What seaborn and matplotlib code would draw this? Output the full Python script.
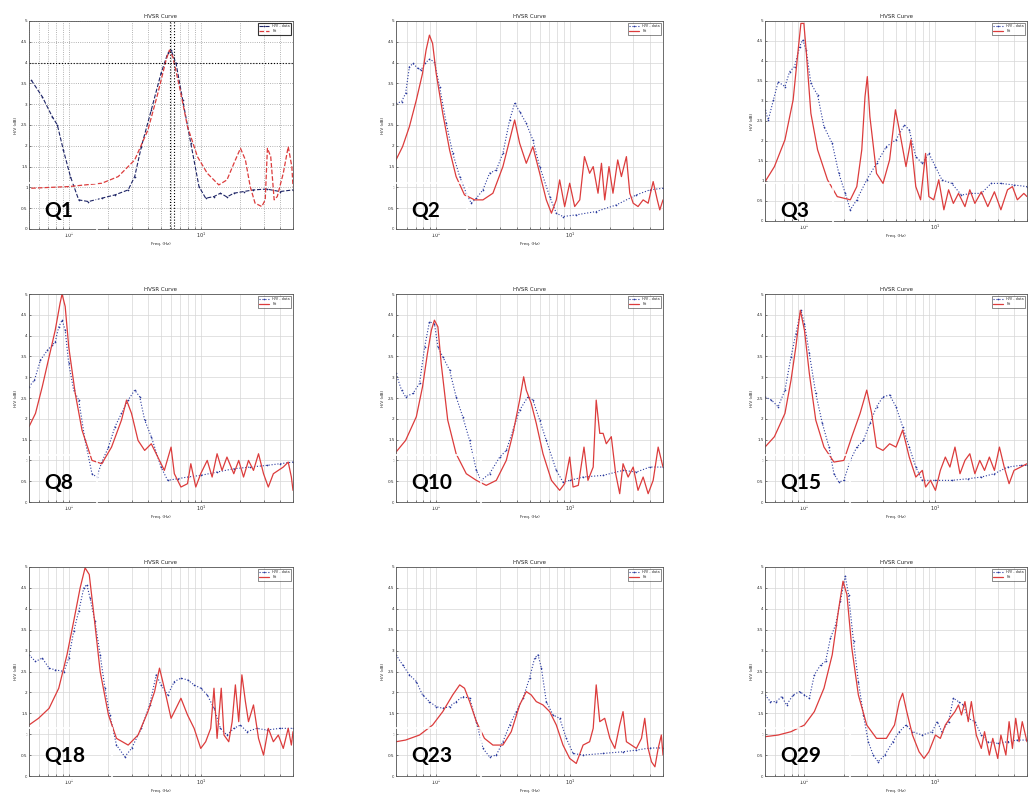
import numpy as np
import matplotlib.pyplot as plt
import seaborn as sns
from matplotlib.patches import Rectangle
from matplotlib.ticker import FixedLocator, LogLocator, NullFormatter

sns.set_style("ticks")
plt.rcParams['font.family'] = ['DejaVu Sans']

# --- Curves: frequency (Hz) and H/V amplitude ---
# Q1
q1_f_obs = [0.52, 0.63, 0.75, 0.82, 0.91, 1.03, 1.19, 1.41, 1.78, 2.24, 2.82, 3.16, 3.55, 4.22, 5.0, 5.62,
            5.96, 6.5, 7.3, 8.41, 9.7, 10.9, 12.6, 14.1, 15.8, 17.8, 21.1, 25.1, 31.6, 39.8, 50]
q1_obs = [3.58, 3.18, 2.70, 2.50, 1.90, 1.26, 0.70, 0.66, 0.74, 0.82, 0.94, 1.26, 1.98, 2.86, 3.74, 4.22,
          4.30, 3.98, 3.10, 2.06, 1.02, 0.74, 0.78, 0.86, 0.77, 0.86, 0.90, 0.94, 0.96, 0.90, 0.94]
q1_f_fit = [0.52, 1.0, 1.78, 2.37, 3.16, 3.98, 4.73, 5.46, 5.79, 6.14, 6.9, 7.94, 9.44, 11.2, 13.7, 15.8,
            18.3, 20.0, 21.8, 23.7, 25.8, 29.0, 30.8, 32.0, 33.9, 36.0, 38.0, 42.2, 46.0, 49.0, 50]
q1_fit = [0.98, 1.02, 1.10, 1.26, 1.66, 2.38, 3.26, 4.06, 4.30, 4.14, 3.42, 2.46, 1.74, 1.34, 1.06, 1.18,
          1.66, 1.94, 1.66, 1.02, 0.62, 0.54, 0.70, 1.94, 1.74, 0.70, 0.78, 1.34, 1.98, 1.50, 1.02]

# Q2
q2_f_obs = [0.5, 0.55, 0.59, 0.63, 0.67, 0.73, 0.77, 0.82, 0.89, 0.97, 1.06, 1.19, 1.33, 1.50, 1.68, 1.83,
            2.0, 2.24, 2.51, 2.82, 3.16, 3.55, 3.87, 4.22, 4.73, 5.30, 5.96, 7.08, 7.94, 8.91, 11.2, 15.8,
            22.4, 31.6, 39.8, 50]
q2_obs = [3.02, 3.06, 3.26, 3.90, 3.98, 3.86, 3.82, 3.98, 4.08, 4.02, 3.42, 2.54, 1.82, 1.26, 0.86, 0.62,
          0.74, 0.94, 1.34, 1.42, 1.82, 2.62, 3.02, 2.82, 2.54, 2.14, 1.50, 0.78, 0.38, 0.30, 0.34, 0.42,
          0.58, 0.82, 0.94, 0.98]
q2_f_fit = [0.5, 0.56, 0.63, 0.71, 0.79, 0.84, 0.89, 0.94, 1.0, 1.12, 1.26, 1.41, 1.63, 1.94, 2.24, 2.66,
            3.16, 3.55, 3.87, 4.22, 4.73, 5.30, 5.96, 6.68, 7.3, 7.94, 8.41, 9.17, 10.0, 10.9, 11.9, 12.9,
            14.1, 15.0, 16.3, 17.3, 18.3, 19.7, 21.1, 22.9, 24.4, 26.6, 28.2, 29.9, 32.5, 35.5, 38.7, 42.2,
            45.3, 47.3, 50]
q2_fit = [1.66, 1.98, 2.46, 3.10, 3.74, 4.30, 4.66, 4.46, 3.74, 2.78, 1.90, 1.26, 0.82, 0.70, 0.70, 0.86,
          1.50, 2.14, 2.62, 2.06, 1.58, 1.98, 1.34, 0.70, 0.38, 0.70, 1.18, 0.54, 1.10, 0.54, 0.70, 1.74,
          1.34, 1.50, 0.86, 1.58, 0.70, 1.50, 0.86, 1.66, 1.26, 1.74, 0.86, 0.62, 0.54, 0.70, 0.62, 1.14,
          0.70, 0.46, 0.70]

# Q3
q3_f_obs = [0.5, 0.53, 0.58, 0.63, 0.71, 0.77, 0.84, 0.92, 0.97, 1.03, 1.12, 1.26, 1.41, 1.63, 1.83, 2.05,
            2.24, 2.51, 2.99, 3.55, 4.22, 5.0, 5.79, 6.31, 7.08, 7.94, 8.91, 10.0, 11.2, 13.3, 15.8, 18.8,
            22.4, 26.6, 31.6, 39.8, 50]
q3_obs = [2.78, 2.53, 3.03, 3.48, 3.36, 3.73, 3.86, 4.36, 4.53, 4.28, 3.44, 3.15, 2.36, 1.94, 1.19, 0.69,
          0.28, 0.53, 1.03, 1.44, 1.86, 2.03, 2.40, 2.28, 1.61, 1.44, 1.69, 1.36, 1.03, 0.94, 0.65, 0.69,
          0.69, 0.94, 0.94, 0.90, 0.86]
q3_f_fit = [0.5, 0.59, 0.71, 0.82, 0.89, 0.94, 0.99, 1.03, 1.12, 1.26, 1.50, 1.78, 2.24, 2.51, 2.74, 2.90,
            3.02, 3.16, 3.55, 3.98, 4.47, 4.95, 5.30, 5.96, 6.5, 7.08, 7.7, 8.41, 8.91, 9.7, 10.6, 11.6,
            12.6, 13.7, 15.0, 16.8, 18.3, 20.0, 22.4, 25.1, 28.2, 31.6, 35.5, 38.7, 42.2, 47.3, 50]
q3_fit = [0.98, 1.36, 2.03, 3.03, 4.19, 4.94, 4.94, 4.28, 2.69, 1.78, 1.03, 0.61, 0.53, 0.86, 1.78, 3.11,
          3.61, 2.61, 1.19, 0.94, 1.53, 2.78, 2.28, 1.36, 2.03, 0.86, 0.53, 1.69, 0.61, 0.53, 1.03, 0.28,
          0.78, 0.44, 0.69, 0.36, 0.78, 0.44, 0.73, 0.36, 0.73, 0.28, 0.78, 0.86, 0.53, 0.69, 0.61]

# Q8
q8_f_obs = [0.5, 0.55, 0.61, 0.69, 0.75, 0.79, 0.84, 0.89, 0.94, 1.0, 1.09, 1.19, 1.33, 1.50, 1.63, 1.78,
            2.0, 2.24, 2.51, 2.82, 3.16, 3.45, 3.76, 4.22, 5.0, 5.62, 6.68, 7.94, 10.0, 13.3, 17.8, 23.7,
            31.6, 39.8, 50]
q8_obs = [2.77, 2.93, 3.41, 3.65, 3.77, 3.85, 4.21, 4.37, 4.13, 3.33, 2.69, 2.45, 1.48, 0.68, 0.60, 0.96,
          1.32, 1.81, 2.13, 2.45, 2.69, 2.53, 1.97, 1.57, 0.84, 0.52, 0.56, 0.60, 0.64, 0.72, 0.80, 0.84,
          0.88, 0.92, 0.96]
q8_f_fit = [0.5, 0.56, 0.63, 0.71, 0.79, 0.86, 0.89, 0.94, 1.0, 1.12, 1.26, 1.50, 1.78, 2.11, 2.51, 2.74,
            2.99, 3.35, 3.76, 4.22, 4.73, 5.30, 5.96, 6.31, 7.08, 7.94, 8.41, 9.17, 10.0, 11.2, 12.2, 13.3,
            14.5, 15.8, 17.8, 19.4, 21.1, 23.0, 25.1, 27.4, 29.9, 32.5, 35.5, 38.7, 42.2, 46.0, 48.6, 50]
q8_fit = [1.81, 2.13, 2.77, 3.49, 4.13, 4.78, 5.0, 4.70, 3.73, 2.61, 1.73, 1.00, 0.92, 1.32, 1.97, 2.45,
          2.13, 1.48, 1.24, 1.40, 1.08, 0.76, 1.32, 0.68, 0.36, 0.44, 0.92, 0.36, 0.68, 1.00, 0.60, 1.16,
          0.76, 1.08, 0.68, 1.00, 0.60, 1.00, 0.76, 1.16, 0.68, 0.36, 0.68, 0.76, 0.84, 0.96, 0.60, 0.28]

# Q10
q10_f_obs = [0.5, 0.55, 0.59, 0.67, 0.75, 0.82, 0.89, 0.97, 1.03, 1.12, 1.26, 1.41, 1.58, 1.78, 2.0, 2.17,
             2.51, 2.99, 3.35, 3.76, 4.22, 4.87, 5.30, 5.96, 6.68, 7.94, 8.91, 10.0, 12.6, 17.8, 25.1,
             31.6, 39.8, 50]
q10_obs = [3.09, 2.69, 2.53, 2.61, 2.85, 3.73, 4.33, 4.29, 3.73, 3.49, 3.17, 2.53, 2.05, 1.48, 0.76, 0.52,
           0.68, 1.08, 1.24, 1.73, 2.21, 2.53, 2.45, 1.97, 1.48, 0.76, 0.48, 0.52, 0.60, 0.64, 0.76, 0.72,
           0.84, 0.84]
q10_f_fit = [0.5, 0.59, 0.71, 0.79, 0.86, 0.92, 0.97, 1.03, 1.09, 1.22, 1.41, 1.68, 2.0, 2.37, 2.82, 3.35,
             3.76, 4.22, 4.52, 4.73, 5.15, 5.62, 6.31, 7.3, 8.41, 9.17, 10.0, 10.6, 11.6, 12.8, 13.7, 15.0,
             15.8, 16.8, 17.8, 18.8, 20.5, 22.1, 23.7, 25.1, 27.4, 29.9, 32.5, 35.5, 38.7, 42.2, 46.0, 50]
q10_fit = [1.20, 1.48, 2.05, 2.77, 3.57, 4.13, 4.37, 4.21, 3.33, 1.97, 1.16, 0.68, 0.52, 0.40, 0.52, 1.00,
           1.65, 2.45, 3.01, 2.69, 2.37, 1.89, 1.16, 0.52, 0.28, 0.44, 1.08, 0.36, 0.40, 1.32, 0.52, 0.84,
           2.45, 1.65, 1.65, 1.40, 1.57, 0.68, 0.20, 0.92, 0.60, 0.84, 0.28, 0.60, 0.20, 0.52, 1.32, 0.84]

# Q15
q15_f_obs = [0.5, 0.56, 0.63, 0.71, 0.79, 0.86, 0.94, 1.0, 1.09, 1.22, 1.37, 1.54, 1.68, 1.83, 2.0, 2.24,
             2.51, 2.82, 3.16, 3.55, 3.98, 4.47, 5.0, 5.62, 6.31, 7.08, 7.94, 10.0, 13.3, 17.8, 22.4, 28.2,
             35.5, 44.7, 50]
q15_obs = [2.53, 2.45, 2.29, 2.69, 3.49, 4.05, 4.61, 4.29, 3.57, 2.61, 1.89, 1.32, 0.68, 0.48, 0.52, 1.00,
           1.32, 1.48, 1.89, 2.29, 2.53, 2.57, 2.29, 1.81, 1.32, 0.84, 0.52, 0.52, 0.52, 0.56, 0.60, 0.68,
           0.84, 0.88, 0.88]
q15_f_fit = [0.5, 0.59, 0.71, 0.79, 0.86, 0.93, 1.0, 1.09, 1.22, 1.41, 1.68, 2.0, 2.30, 2.66, 2.99, 3.26,
             3.55, 3.98, 4.47, 5.0, 5.62, 6.31, 7.08, 7.94, 8.41, 9.17, 10.0, 10.9, 11.9, 12.9, 14.1, 15.4,
             16.8, 18.3, 20.0, 21.8, 23.7, 25.8, 28.2, 30.8, 33.5, 36.5, 39.8, 44.7, 50]
q15_fit = [1.32, 1.57, 2.13, 2.93, 3.73, 4.61, 4.13, 3.09, 1.97, 1.32, 0.96, 1.00, 1.57, 2.13, 2.69, 2.13,
           1.32, 1.24, 1.40, 1.32, 1.73, 1.08, 0.60, 0.76, 0.36, 0.52, 0.28, 0.76, 1.08, 0.84, 1.32, 0.68,
           1.00, 1.16, 0.68, 1.00, 0.76, 1.08, 0.76, 1.32, 0.84, 0.44, 0.76, 0.84, 0.92]

# Q18
q18_f_obs = [0.5, 0.56, 0.63, 0.71, 0.79, 0.92, 1.0, 1.09, 1.19, 1.30, 1.37, 1.45, 1.58, 1.73, 1.88, 2.05,
             2.30, 2.66, 2.99, 3.55, 4.10, 4.60, 5.0, 5.62, 6.31, 7.08, 7.94, 8.91, 10.0, 11.2, 12.6, 14.1,
             15.8, 17.8, 20.0, 22.4, 26.6, 31.6, 39.8, 50]
q18_obs = [2.90, 2.74, 2.82, 2.58, 2.54, 2.50, 2.82, 3.46, 3.94, 4.50, 4.58, 4.26, 3.70, 2.90, 2.10, 1.46,
           0.74, 0.46, 0.66, 1.14, 1.70, 2.42, 2.18, 1.94, 2.26, 2.34, 2.30, 2.18, 2.10, 1.94, 1.62, 1.14,
           0.98, 1.14, 1.22, 1.06, 1.14, 1.10, 1.14, 1.14]
q18_f_fit = [0.5, 0.59, 0.71, 0.84, 0.97, 1.09, 1.22, 1.33, 1.43, 1.54, 1.73, 2.0, 2.30, 2.82, 3.35, 3.98,
             4.47, 4.87, 5.30, 5.96, 6.5, 7.08, 7.94, 8.91, 10.0, 10.9, 11.9, 12.6, 13.3, 14.3, 15.0, 16.3,
             17.3, 18.3, 19.4, 20.5, 21.8, 23.0, 25.1, 27.4, 29.9, 32.5, 35.5, 38.7, 42.2, 46.0, 48.6, 50]
q18_fit = [1.22, 1.38, 1.62, 2.10, 2.90, 3.70, 4.50, 4.98, 4.82, 3.94, 2.50, 1.46, 0.90, 0.74, 0.98, 1.54,
           2.02, 2.58, 2.10, 1.38, 1.62, 1.86, 1.46, 1.14, 0.66, 0.82, 1.14, 2.10, 0.90, 2.10, 0.98, 0.82,
           1.30, 2.18, 1.30, 2.42, 1.78, 1.30, 1.70, 0.90, 0.50, 1.14, 0.82, 0.98, 0.66, 1.14, 0.74, 1.06]

# Q23
q23_f_obs = [0.5, 0.56, 0.63, 0.71, 0.79, 0.89, 1.0, 1.12, 1.26, 1.41, 1.58, 1.78, 2.0, 2.24, 2.51, 2.82,
             3.16, 3.55, 3.98, 4.47, 5.0, 5.46, 5.79, 6.14, 6.68, 7.50, 8.41, 9.44, 10.6, 12.6, 17.8, 25.1,
             31.6, 39.8, 50]
q23_obs = [2.90, 2.66, 2.42, 2.26, 1.94, 1.78, 1.66, 1.62, 1.66, 1.78, 1.90, 1.86, 1.30, 0.66, 0.46, 0.50,
           0.82, 1.22, 1.54, 1.86, 2.34, 2.82, 2.90, 2.58, 1.78, 1.46, 1.38, 0.90, 0.54, 0.50, 0.54, 0.58,
           0.62, 0.67, 0.67]
q23_f_fit = [0.5, 0.59, 0.75, 0.94, 1.12, 1.33, 1.50, 1.63, 1.78, 2.0, 2.30, 2.66, 3.16, 3.65, 4.22, 4.73,
             5.15, 5.62, 6.31, 7.08, 7.94, 8.91, 10.0, 11.2, 12.6, 14.1, 15.0, 15.8, 16.8, 18.3, 20.0, 21.8,
             23.7, 25.1, 26.6, 29.0, 31.6, 34.5, 36.5, 38.7, 41.0, 43.5, 46.0, 48.6, 50]
q23_fit = [0.82, 0.86, 0.98, 1.22, 1.54, 1.94, 2.18, 2.10, 1.78, 1.30, 0.90, 0.74, 0.74, 1.06, 1.70, 2.02,
           1.94, 1.78, 1.70, 1.54, 1.22, 0.74, 0.42, 0.30, 0.74, 0.82, 1.14, 2.18, 1.30, 1.38, 0.90, 0.66,
           1.22, 1.54, 0.82, 0.74, 0.66, 0.90, 1.38, 0.66, 0.34, 0.22, 0.66, 0.98, 0.50]

# Q29
q29_f_obs = [0.5, 0.55, 0.61, 0.67, 0.73, 0.82, 0.92, 1.0, 1.09, 1.19, 1.33, 1.45, 1.58, 1.73, 1.88, 2.05,
             2.17, 2.37, 2.58, 2.82, 3.07, 3.35, 3.65, 4.10, 4.73, 5.30, 5.96, 6.68, 7.94, 9.44, 10.3, 11.2,
             12.6, 13.7, 15.0, 16.3, 17.8, 20.0, 22.4, 25.1, 29.9, 35.5, 42.2, 50]
q29_obs = [1.94, 1.78, 1.78, 1.90, 1.70, 1.94, 2.02, 1.94, 1.86, 2.42, 2.66, 2.74, 3.30, 3.62, 4.18, 4.78,
           4.34, 3.22, 2.26, 1.46, 0.82, 0.50, 0.34, 0.50, 0.82, 1.06, 1.22, 1.06, 0.98, 1.06, 1.30, 1.06,
           1.30, 1.86, 1.78, 1.70, 1.38, 1.30, 0.98, 0.82, 0.78, 0.82, 0.86, 0.86]
q29_f_fit = [0.5, 0.63, 0.79, 1.0, 1.19, 1.41, 1.63, 1.83, 1.97, 2.11, 2.30, 2.58, 2.99, 3.55, 4.22, 4.87,
             5.30, 5.62, 6.04, 6.68, 7.50, 8.18, 8.91, 10.0, 10.9, 11.9, 12.9, 14.1, 15.0, 15.8, 16.8, 17.8,
             18.8, 20.5, 22.4, 23.7, 25.8, 27.4, 29.9, 31.6, 34.5, 36.5, 38.7, 41.0, 43.5, 46.0, 50]
q29_fit = [0.94, 0.98, 1.06, 1.22, 1.54, 2.10, 2.90, 4.02, 4.66, 4.34, 3.06, 1.94, 1.22, 0.90, 0.90, 1.22,
           1.78, 1.98, 1.54, 0.98, 0.58, 0.42, 0.58, 0.98, 0.90, 1.22, 1.38, 1.54, 1.70, 1.46, 1.78, 1.30,
           1.78, 0.98, 0.66, 1.06, 0.50, 0.90, 0.42, 0.98, 0.50, 1.30, 0.66, 1.38, 0.82, 1.30, 0.82]

site_names = ["Q1", "Q2", "Q3", "Q8", "Q10", "Q15", "Q18", "Q23", "Q29"]
curves = [
    (q1_f_obs, q1_obs, q1_f_fit, q1_fit), (q2_f_obs, q2_obs, q2_f_fit, q2_fit),
    (q3_f_obs, q3_obs, q3_f_fit, q3_fit), (q8_f_obs, q8_obs, q8_f_fit, q8_fit),
    (q10_f_obs, q10_obs, q10_f_fit, q10_fit), (q15_f_obs, q15_obs, q15_f_fit, q15_fit),
    (q18_f_obs, q18_obs, q18_f_fit, q18_fit), (q23_f_obs, q23_obs, q23_f_fit, q23_fit),
    (q29_f_obs, q29_obs, q29_f_fit, q29_fit),
]
legend_labels = ["H/V - data", "Fit"]
y_ticks = [0, 0.5, 1, 1.5, 2, 2.5, 3, 3.5, 4, 4.5, 5]

# --- Layout (pixels of the 1029x796 figure) ---
W, H = 1029, 796
col_left = [29, 396, 765]
col_width = [264, 267, 262]
row_top = [21, 294, 567]
row_bottom = [229, 502, 776]
box_top = [183, 455, 728]
box_right = [[97, 467, 833], [97, 481, 850], [112, 481, 850]]

fig = plt.figure(figsize=(W / 100, H / 100), dpi=100)

blue = '#2a3a9e'
red = '#dc3c3c'

for i, name in enumerate(site_names):
    r, c = divmod(i, 3)
    f_obs, obs, f_fit, fit = curves[i]
    left, top, bottom = col_left[c], row_top[r], row_bottom[r]
    if i == 2:
        bottom = 221
    ax = fig.add_axes([left / W, 1 - bottom / H, col_width[c] / W, (bottom - top) / H])

    ls = '--' if i == 0 else ':'
    sns.lineplot(x=f_obs, y=obs, ax=ax, color=blue if i else '#1d2466', linestyle=ls, marker='.',
                 markersize=2.4, markeredgewidth=0, linewidth=0.8, estimator=None, sort=False,
                 label=legend_labels[0])
    sns.lineplot(x=f_fit, y=fit, ax=ax, color=red, linestyle='--' if i == 0 else '-',
                 linewidth=0.9, estimator=None, sort=False, label=legend_labels[1])

    ax.set_xscale('log')
    ax.set_xlim(0.5, 50)
    ax.set_ylim(0, 5)
    ax.set_yticks(y_ticks)
    ax.set_yticklabels([f"{t:g}" for t in y_ticks], fontsize=3)
    ax.xaxis.set_major_locator(FixedLocator([1, 10]))
    ax.set_xticklabels(['$10^0$', '$10^1$'], fontsize=3.5)
    ax.xaxis.set_minor_locator(LogLocator(base=10, subs=np.arange(2, 10)))
    ax.xaxis.set_minor_formatter(NullFormatter())
    ax.tick_params(which='both', length=1.5, width=0.4, pad=1, direction='in')

    if i == 0:
        ax.grid(True, which='both', axis='both', color='#9a9a9a', linestyle=':', linewidth=0.6)
        ax.axhline(4.0, color='black', linestyle=':', linewidth=0.8)
        ax.axvline(5.8, color='black', linestyle=':', linewidth=0.8)
        ax.axvline(6.3, color='black', linestyle=':', linewidth=0.8)
    else:
        ax.grid(True, which='both', axis='x', color='#d6d6d6', linewidth=0.5)
        ax.grid(True, which='major', axis='y', color='#d6d6d6', linewidth=0.5)
    for sp in ax.spines.values():
        sp.set_linewidth(0.6)
        sp.set_color('#555555')

    ax.set_title('HVSR Curve', fontsize=4, pad=2)
    ax.set_xlabel('Freq. (Hz)', fontsize=3, labelpad=2)
    ax.set_ylabel('H/V (dB)', fontsize=3, labelpad=2)
    leg = ax.legend(loc='upper right', fontsize=2.5, frameon=True, fancybox=False,
                    handlelength=3, borderpad=0.4, labelspacing=0.3)
    leg.get_frame().set_edgecolor('black')
    leg.get_frame().set_linewidth(0.8 if i == 0 else 0.4)

    # site name with the thin white frame of the pasted text box
    box_l = 0 if i == 0 else left - 1
    fig.patches.append(Rectangle((box_l / W, 1 - (bottom + 4) / H), (box_right[r][c] - box_l) / W,
                                 (bottom + 4 - box_top[r]) / H, transform=fig.transFigure,
                                 facecolor='none', edgecolor='white', linewidth=1.2, zorder=5))
    fig.text((left + 15) / W, 1 - (box_top[r] + 28) / H, name, fontsize=15, fontweight='bold',
             family=['Lato', 'DejaVu Sans'], color='black', va='center', ha='left', zorder=6)

plt.savefig('out.png', dpi=100)
